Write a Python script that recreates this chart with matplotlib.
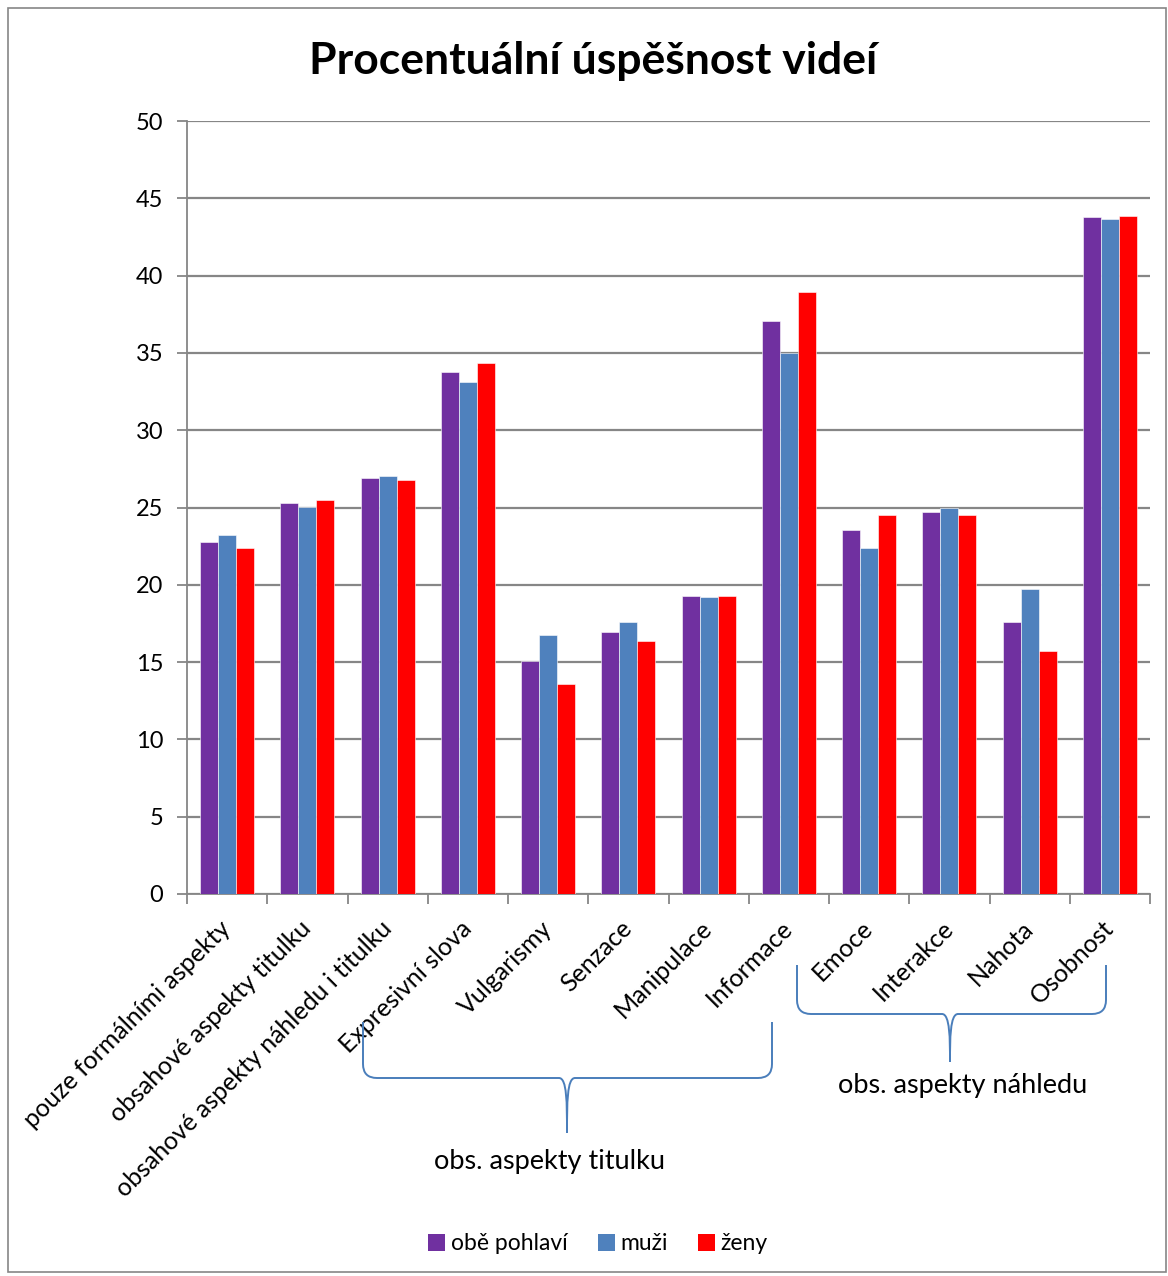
import numpy as np
import matplotlib.pyplot as plt
from matplotlib.path import Path
from matplotlib.patches import PathPatch, Rectangle, Patch

plt.rcParams['font.family'] = ['Lato', 'DejaVu Sans']

categories = ['pouze formálními aspekty', 'obsahové aspekty titulku',
              'obsahové aspekty náhledu i titulku', 'Expresivní slova',
              'Vulgarismy', 'Senzace', 'Manipulace', 'Informace',
              'Emoce', 'Interakce', 'Nahota', 'Osobnost']
obe = [22.75, 25.27, 26.89, 33.76, 15.07, 16.93, 19.25, 37.08, 23.55, 24.71, 17.6, 43.79]
muzi = [23.2, 25.03, 27.04, 33.1, 16.75, 17.57, 19.2, 34.97, 22.4, 24.95, 19.73, 43.64]
zeny = [22.35, 25.5, 26.78, 34.35, 13.6, 16.35, 19.3, 38.92, 24.52, 24.52, 15.72, 43.87]
series = ['obě pohlaví', 'muži', 'ženy']
colors = ['#7030A0', '#4F81BD', '#FF0000']
groups = [('obs. aspekty titulku', 3, 7), ('obs. aspekty náhledu', 8, 11)]

W, H = 1168, 1276
fig = plt.figure(figsize=(W / 100, H / 100), dpi=100)
ax = fig.add_axes([187 / W, 1 - 894 / H, (1150 - 187) / W, (894 - 121) / H])

x = np.arange(len(categories)) + 0.5
bw = 0.225
for i, (vals, c, name) in enumerate(zip([obe, muzi, zeny], colors, series)):
    ax.bar(x + (i - 1) * bw, vals, bw, color=c, label=name,
           edgecolor='white', linewidth=0.4, zorder=3)

ax.set_xlim(0, 12)
ax.set_ylim(0, 50)
ax.set_yticks(range(0, 51, 5))
ax.yaxis.grid(True, color='#868686', linewidth=1.6, zorder=0)
ax.set_xticks(np.arange(13))
ax.set_xticklabels([])
ax.set_xticks(x, minor=True)
ax.set_xticklabels(categories, minor=True, rotation=45, ha='right', va='center',
                   rotation_mode='anchor', fontsize=18)
ax.tick_params(axis='x', which='minor', length=0, pad=22)
ax.tick_params(axis='x', which='major', length=7, color='#868686', width=1.3)
ax.tick_params(axis='y', length=7, color='#868686', width=1.3, labelsize=17, pad=10)
for s in ['top', 'right']:
    ax.spines[s].set_visible(False)
for s in ['left', 'bottom']:
    ax.spines[s].set_color('#868686')
    ax.spines[s].set_linewidth(1.3)

fig.text(593 / W, 1 - 61 / H, 'Procentuální úspěšnost videí', ha='center', va='center',
         fontsize=32, fontweight='bold')


def fp(px, py):
    return (px / W, 1 - py / H)


def brace(x0, x1, ytop, yh, xm, ytip):
    r = 14
    verts = [fp(x0, ytop), fp(x0, yh - r), fp(x0, yh), fp(x0 + r, yh),
             fp(xm - 8, yh), fp(xm, yh), fp(xm, yh + 25), fp(xm, ytip),
             fp(xm, yh + 25), fp(xm, yh), fp(xm + 8, yh),
             fp(x1 - r, yh), fp(x1, yh), fp(x1, yh - r), fp(x1, ytop)]
    codes = [Path.MOVETO, Path.LINETO, Path.CURVE3, Path.CURVE3,
             Path.LINETO, Path.CURVE4, Path.CURVE4, Path.CURVE4,
             Path.CURVE4, Path.CURVE4, Path.CURVE4,
             Path.LINETO, Path.CURVE3, Path.CURVE3, Path.LINETO]
    fig.add_artist(PathPatch(Path(verts, codes), transform=fig.transFigure,
                             fill=False, edgecolor='#4A7EBB', linewidth=1.4))


brace(363, 772, 1022, 1078, 567, 1133)
brace(797, 1106, 965, 1014, 950, 1062)
fig.text(550 / W, 1 - 1161 / H, groups[0][0], ha='center', va='center', fontsize=19.5)
fig.text(963 / W, 1 - 1086 / H, groups[1][0], ha='center', va='center', fontsize=19.5)

handles = [Patch(facecolor=c, label=n) for c, n in zip(colors, series)]
fig.legend(handles=handles, loc='center', bbox_to_anchor=fp(598, 1244), ncol=3,
           frameon=False, fontsize=16.5, handlelength=0.75, handleheight=0.75,
           handletextpad=0.25, columnspacing=1.3)

fig.add_artist(Rectangle(fp(8, 1272), (1166 - 8) / W, (1272 - 8) / H,
                         transform=fig.transFigure, fill=False,
                         edgecolor='#868686', linewidth=1.2))

fig.savefig('out.png', dpi=100)
